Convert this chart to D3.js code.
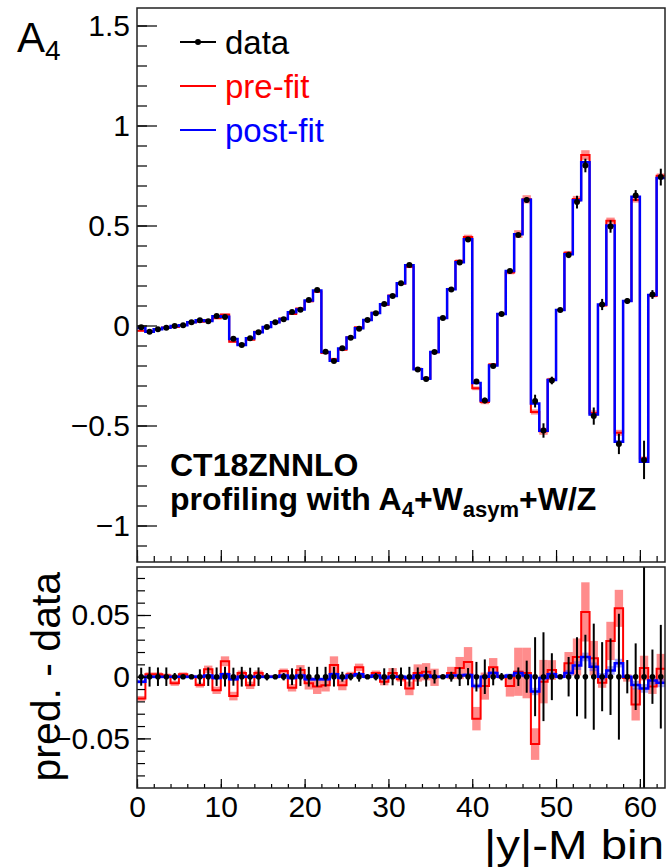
<!DOCTYPE html>
<html>
<head>
<meta charset="utf-8">
<script src="https://cdn.jsdelivr.net/npm/d3@7"></script>
<style>
body { margin: 0; background: #fff; }
text { font-family: "Liberation Sans", Arial, sans-serif; }
</style>
</head>
<body>
<svg id="chart" width="668" height="867"></svg>
<script>

// |y|-M bins, 0..62
var nBins = 63;
var xTickLabels = [0, 10, 20, 30, 40, 50, 60];
var topTickLabels = [-1, -0.5, 0, 0.5, 1, 1.5];
var botTickLabels = [-0.05, 0, 0.05];

// measured A4 per bin
var dataVal = [-0.009, -0.031, -0.019, -0.011, -0.002, 0.001, 0.016, 0.026, 0.021, 0.047, 0.042,
               -0.066, -0.097, -0.064, -0.034, -0.008, 0.016, 0.031, 0.067, 0.079, 0.127, 0.177,
               -0.131, -0.178, -0.114, -0.061, -0.016, 0.027, 0.061, 0.107, 0.147, 0.211, 0.302,
               -0.220, -0.267, -0.133, 0.037, 0.180, 0.315, 0.430,
               -0.280, -0.375, -0.203, 0.057, 0.272, 0.453, 0.628,
               -0.378, -0.525, -0.275, 0.078, 0.353, 0.617, 0.800,
               -0.453, 0.105, 0.495,
               -0.592, 0.123, 0.650,
               -0.672, 0.155, 0.742];

var dataErr = [0.0073, 0.008, 0.0075, 0.0075, 0.003, 0.001, 0.001, 0.006, 0.0075, 0.0075, 0.008,
               0.0073, 0.008, 0.0073, 0.0075, 0.003, 0.001, 0.003, 0.0068, 0.0075, 0.008, 0.008,
               0.008, 0.008, 0.004, 0.003, 0.004, 0.001, 0.003, 0.0068, 0.007, 0.0075, 0.008,
               0.0075, 0.008, 0.0055, 0.001, 0.004, 0.0075, 0.007,
               0.012, 0.014, 0.007, 0.003, 0.001, 0.0075, 0.013,
               0.032, 0.036, 0.019, 0.0015, 0.016, 0.032, 0.034,
               0.043, 0.028, 0.031,
               0.051, 0.0135, 0.027,
               0.096, 0.022, 0.042];

// pre-fit prediction minus data, and its uncertainty
var preRes = [-0.0176, 0.002, 0.002, 0.001, -0.0054, 0.002, 0, -0.0068, 0.006, -0.011, 0.0125,
              -0.0157, 0.003, -0.007, 0.003, 0, 0, 0.0046, -0.009, 0.0054, -0.0054, -0.008,
              -0.007, 0.0095, -0.007, 0.002, 0.0076, 0, 0.003, -0.004, 0.003, -0.002, -0.0095,
              0.003, 0.004, -0.0005, 0, 0.003, 0.007, 0.012,
              -0.034, -0.0076, 0.0076, 0, -0.0076, 0.004, 0.003,
              -0.0546, -0.004, 0.0054, 0, 0.011, 0.016, 0.0525,
              0.015, -0.005, 0.029,
              0.0554, -0.001, -0.0225,
              0.007, -0.008, 0.0065];

var preUnc = [0.002, 0.0015, 0.0015, 0.0015, 0.002, 0.0015, 0.001, 0.002, 0.003, 0.003, 0.004,
              0.0035, 0.002, 0.003, 0.002, 0.001, 0.001, 0.002, 0.003, 0.004, 0.005, 0.006,
              0.005, 0.007, 0.004, 0.002, 0.003, 0.001, 0.002, 0.003, 0.004, 0.002, 0.0055,
              0.007, 0.007, 0.007, 0.001, 0.005, 0.009, 0.012,
              0.0095, 0.011, 0.0075, 0.0015, 0.0085, 0.0195, 0.0205,
              0.0128, 0.0176, 0.008, 0.001, 0.009, 0.015, 0.024,
              0.014, 0.004, 0.0155,
              0.015, 0.003, 0.013,
              0.01, 0.006, 0.012];

// post-fit prediction minus data, and its uncertainty
var postRes = [-0.004, 0, 0, 0, 0, 0, 0, 0, 0.001, -0.001, 0.002,
               -0.002, 0, 0, 0, 0, 0, 0.001, -0.001, 0.001, -0.002, -0.002,
               -0.002, 0.002, -0.001, 0.001, 0.002, 0, 0.001, -0.001, 0, 0, -0.001,
               0.001, 0.001, 0, 0, 0.001, 0.001, 0.0013,
               -0.0076, 0, 0.003, 0, 0.001, 0.003, 0.001,
               -0.012, -0.001, 0.002, 0, 0.003, 0.009, 0.016,
               0.008, 0, 0.005,
               0.011, 0, -0.0068,
               -0.0095, -0.003, -0.005];

var postUnc = [0.0015, 0.0015, 0.0015, 0.0015, 0.0015, 0.0015, 0.0015, 0.0015, 0.0015, 0.0015, 0.0015,
               0.0015, 0.0015, 0.0015, 0.0015, 0.0015, 0.0015, 0.0015, 0.0015, 0.0015, 0.0015, 0.0015,
               0.0015, 0.0015, 0.0015, 0.0015, 0.0015, 0.0015, 0.0015, 0.0015, 0.0015, 0.0015, 0.0015,
               0.0015, 0.0015, 0.0015, 0.0015, 0.0015, 0.0015, 0.0015,
               0.002, 0.0015, 0.0015, 0.0015, 0.0015, 0.002, 0.002,
               0.003, 0.002, 0.002, 0.0015, 0.0025, 0.0035, 0.0035,
               0.0035, 0.003, 0.0035,
               0.0035, 0.0015, 0.0035,
               0.0035, 0.0035, 0.0035];


var svg = d3.select("#chart");

var frameL = 137, frameR = 665;
var top1 = 8, bot1 = 562;    // upper pad frame
var top2 = 567, bot2 = 788;  // ratio pad frame

var x = d3.scaleLinear().domain([0, nBins]).range([frameL, frameR]);
var yTop = d3.scaleLinear().domain([-1.1825, 1.5875]).range([bot1, top1]);
var yBot = d3.scaleLinear().domain([-0.0902, 0.0889]).range([bot2, top2]);

var bins = d3.range(nBins).map(function(i) {
    return {
        i: i,
        data: dataVal[i],
        err: dataErr[i],
        pre: dataVal[i] + preRes[i],
        post: dataVal[i] + postRes[i],
        preRes: preRes[i],
        postRes: postRes[i],
        preUnc: preUnc[i],
        postUnc: postUnc[i],
        zero: 0
    };
});

// clip paths for both frames
var defs = svg.append("defs");
defs.append("clipPath").attr("id", "clipTop")
    .append("rect").attr("x", frameL).attr("y", top1)
    .attr("width", frameR - frameL).attr("height", bot1 - top1);
defs.append("clipPath").attr("id", "clipBot")
    .append("rect").attr("x", frameL).attr("y", top2)
    .attr("width", frameR - frameL).attr("height", bot2 - top2);

// step line through bin edges
function stepPath(y, key) {
    var pts = [];
    bins.forEach(function(d) {
        pts.push([x(d.i), y(d[key])]);
        pts.push([x(d.i + 1), y(d[key])]);
    });
    return d3.line()(pts);
}

function drawPanel(g, y, preKey, postKey, dataKey, r) {

    // pre-fit band
    g.selectAll(".preband")
        .data(bins)
        .enter().append("rect")
        .attr("class", "preband")
        .attr("x", function(d) { return x(d.i); })
        .attr("width", x(1) - x(0))
        .attr("y", function(d) { return y(d[preKey] + d.preUnc); })
        .attr("height", function(d) { return Math.max(1, y(d[preKey] - d.preUnc) - y(d[preKey] + d.preUnc)); })
        .attr("fill", "rgba(255,0,0,0.45)");

    // post-fit band
    g.selectAll(".postband")
        .data(bins)
        .enter().append("rect")
        .attr("class", "postband")
        .attr("x", function(d) { return x(d.i); })
        .attr("width", x(1) - x(0))
        .attr("y", function(d) { return y(d[postKey] + d.postUnc); })
        .attr("height", function(d) { return Math.max(1, y(d[postKey] - d.postUnc) - y(d[postKey] + d.postUnc)); })
        .attr("fill", "rgba(60,60,255,0.45)");

    g.append("path")
        .attr("d", stepPath(y, preKey))
        .attr("fill", "none")
        .attr("stroke", "#ff0000")
        .attr("stroke-width", 2);

    g.append("path")
        .attr("d", stepPath(y, postKey))
        .attr("fill", "none")
        .attr("stroke", "#0000ff")
        .attr("stroke-width", 2.5);

    // data error bars
    g.selectAll(".errbar")
        .data(bins)
        .enter().append("line")
        .attr("class", "errbar")
        .attr("x1", function(d) { return x(d.i + 0.5); })
        .attr("x2", function(d) { return x(d.i + 0.5); })
        .attr("y1", function(d) { return y(d[dataKey] - d.err); })
        .attr("y2", function(d) { return y(d[dataKey] + d.err); })
        .attr("stroke", "black")
        .attr("stroke-width", 2);

    g.selectAll(".dot")
        .data(bins)
        .enter().append("circle")
        .attr("class", "dot")
        .attr("cx", function(d) { return x(d.i + 0.5); })
        .attr("cy", function(d) { return y(d[dataKey]); })
        .attr("r", r)
        .attr("fill", "black");
}

var gTop = svg.append("g").attr("clip-path", "url(#clipTop)");
drawPanel(gTop, yTop, "pre", "post", "data", 3);

var gBot = svg.append("g").attr("clip-path", "url(#clipBot)");
drawPanel(gBot, yBot, "preRes", "postRes", "zero", 2.8);


// axes, ROOT style ticks pointing inward
function styleAxis(sel, size) {
    sel.select(".domain").remove();
    sel.selectAll(".tick line").attr("stroke", "black").attr("stroke-width", 1.2);
    sel.selectAll(".tick text")
        .attr("fill", "black")
        .style("font-size", size + "px")
        .style("font-family", "'Liberation Sans', Arial, sans-serif");
}

function fmt(d) {
    if (d === 0) return "0";
    return (d < 0 ? "\u2212" : "") + String(Math.abs(d));
}

// upper pad y
svg.append("g")
    .attr("transform", "translate(" + frameL + ",0)")
    .call(d3.axisLeft(yTop).tickValues(d3.range(-11, 16).map(function(v) { return v / 10; }))
        .tickSize(-10).tickFormat(""))
    .call(styleAxis, 30);
svg.append("g")
    .attr("transform", "translate(" + frameL + ",0)")
    .call(d3.axisLeft(yTop).tickValues(topTickLabels).tickSize(-20).tickPadding(7).tickFormat(fmt))
    .call(styleAxis, 30);

// upper pad x (no labels)
svg.append("g")
    .attr("transform", "translate(0," + bot1 + ")")
    .call(d3.axisTop(x).tickValues(d3.range(0, nBins + 1, 2)).tickSize(6).tickFormat(""))
    .call(styleAxis, 30);
svg.append("g")
    .attr("transform", "translate(0," + bot1 + ")")
    .call(d3.axisTop(x).tickValues(xTickLabels).tickSize(12).tickFormat(""))
    .call(styleAxis, 30);

// ratio pad y
svg.append("g")
    .attr("transform", "translate(" + frameL + ",0)")
    .call(d3.axisLeft(yBot).tickValues(d3.range(-8, 9).map(function(v) { return v / 100; }))
        .tickSize(-8).tickFormat(""))
    .call(styleAxis, 30);
svg.append("g")
    .attr("transform", "translate(" + frameL + ",0)")
    .call(d3.axisLeft(yBot).tickValues(botTickLabels).tickSize(-14).tickPadding(7).tickFormat(fmt))
    .call(styleAxis, 30);

// ratio pad x
svg.append("g")
    .attr("transform", "translate(0," + bot2 + ")")
    .call(d3.axisBottom(x).tickValues(d3.range(0, nBins + 1, 2)).tickSize(-4).tickFormat(""))
    .call(styleAxis, 30);
svg.append("g")
    .attr("transform", "translate(0," + bot2 + ")")
    .call(d3.axisBottom(x).tickValues(xTickLabels).tickSize(-9).tickPadding(8).tickFormat(fmt))
    .call(styleAxis, 30);

// frames
[[top1, bot1], [top2, bot2]].forEach(function(f) {
    svg.append("rect")
        .attr("x", frameL).attr("y", f[0])
        .attr("width", frameR - frameL).attr("height", f[1] - f[0])
        .attr("fill", "none")
        .attr("stroke", "#222")
        .attr("stroke-width", 1.5);
});

// axis titles
var aTitle = svg.append("text").attr("x", 17).attr("y", 52).style("font-size", "42px");
aTitle.append("tspan").text("A");
aTitle.append("tspan").attr("dy", 8).style("font-size", "28px").text("4");

svg.append("text")
    .attr("transform", "translate(60," + yBot(0) + ") rotate(-90)")
    .attr("text-anchor", "middle")
    .style("font-size", "41px")
    .text("pred. - data");

svg.append("text")
    .attr("x", 664).attr("y", 859)
    .attr("text-anchor", "end")
    .attr("textLength", 180)
    .attr("lengthAdjust", "spacingAndGlyphs")
    .style("font-size", "40px")
    .text("|y|-M bin");

// legend
var legend = [
    {label: "data", color: "black", y: 42, dot: true},
    {label: "pre-fit", color: "#ff0000", y: 86, dot: false},
    {label: "post-fit", color: "#0000ff", y: 130, dot: false}
];
legend.forEach(function(l) {
    svg.append("line")
        .attr("x1", 180).attr("x2", 216)
        .attr("y1", l.y).attr("y2", l.y)
        .attr("stroke", l.color).attr("stroke-width", 2);
    if (l.dot) {
        svg.append("circle").attr("cx", 198).attr("cy", l.y).attr("r", 3).attr("fill", "black");
    }
    svg.append("text")
        .attr("x", 225).attr("y", l.y + 12)
        .attr("fill", l.color)
        .style("font-size", "33px")
        .text(l.label);
});

// fit description
svg.append("text")
    .attr("x", 170).attr("y", 476)
    .style("font-size", "32px").style("font-weight", "bold")
    .text("CT18ZNNLO");

var prof = svg.append("text")
    .attr("x", 170).attr("y", 510)
    .style("font-size", "32px").style("font-weight", "bold");
prof.append("tspan").text("profiling with A");
prof.append("tspan").attr("dy", 7).style("font-size", "22px").text("4");
prof.append("tspan").attr("dy", -7).text("+W");
prof.append("tspan").attr("dy", 7).style("font-size", "22px").text("asym");
prof.append("tspan").attr("dy", -7).text("+W/Z");

</script>
</body>
</html>
